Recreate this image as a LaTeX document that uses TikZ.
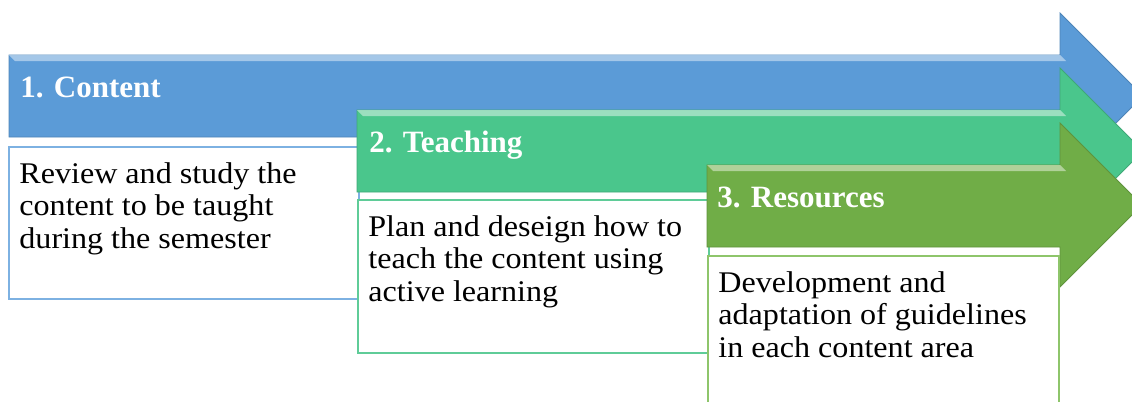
\documentclass[tikz,border=0pt]{standalone}
\usepackage{fontspec}
\setmainfont{Liberation Serif}
\newfontfamily\stepfont[FakeStretch=1.07]{Liberation Serif}
\usepackage{tikz}
\usetikzlibrary{calc}

\definecolor{cblue}{HTML}{5B9BD7}
\definecolor{cteal}{HTML}{4AC68C}
\definecolor{clime}{HTML}{70AD47}
\definecolor{cbluebd}{HTML}{7DB1E2}
\definecolor{ctealbd}{HTML}{5FCC98}
\definecolor{climebd}{HTML}{8EC56B}

\begin{document}
\begin{tikzpicture}[x=0.5pt,y=-0.5pt]
  \tikzset{
    arrowbody/.style={draw=#1!85!black, line width=0.4pt, fill=#1},
    bevel/.style={fill=#1!40!white, opacity=0.75},
    txtbox/.style={draw=#1, line width=1pt, fill=white, rectangle, anchor=north west, inner sep=0pt},
    title/.style={anchor=base west, inner sep=0pt, text=white, font=\fontsize{15.5}{19}\bfseries},
    body/.style={anchor=north west, inner sep=0pt, align=left, font=\stepfont\fontsize{15}{16.25}\selectfont},
  }
  \clip (0,0) rectangle (1132,402);

  % step 1
  \path [arrowbody=cblue] (9,55) -- (1060,55) -- (1060,13) -- (1143,96) -- (1060,179) -- (1060,137) -- (9,137) -- cycle;
  \path [bevel=cblue] (9,55) -- (1060,55) -- (1066,61) -- (15,61) -- cycle;
  \node [title] (t1) at (20,97) {1. Content};
  \node [txtbox=cbluebd, minimum width=175pt, minimum height=76pt] (b1) at (8,146) {};
  \node [body, xshift=5.5pt, yshift=-8pt] (d1) at (b1.north west) {Review and study the\\content to be taught\\during the semester};

  % step 2
  \path [arrowbody=cteal] (357,110) -- (1060,110) -- (1060,68) -- (1143,151) -- (1060,234) -- (1060,192) -- (357,192) -- cycle;
  \path [bevel=cteal] (357,110) -- (1060,110) -- (1066,116) -- (363,116) -- cycle;
  \node [title] (t2) at (369,152) {2. Teaching};
  \node [txtbox=ctealbd, minimum width=175.5pt, minimum height=76.5pt] (b2) at (357,199) {};
  \node [body, xshift=5.5pt, yshift=-8pt] (d2) at (b2.north west) {Plan and deseign how to\\teach the content using\\active learning};

  % step 3
  \path [arrowbody=clime] (707,165) -- (1060,165) -- (1060,123) -- (1142,205) -- (1060,287) -- (1060,247) -- (707,247) -- cycle;
  \path [bevel=clime] (707,165) -- (1060,165) -- (1066,171) -- (713,171) -- cycle;
  \node [title] (t3) at (717,207) {3. Resources};
  \node [txtbox=climebd, minimum width=175.5pt, minimum height=90pt] (b3) at (707,255) {};
  \node [body, xshift=5.5pt, yshift=-8pt] (d3) at (b3.north west) {Development and\\adaptation of guidelines\\in each content area};
\end{tikzpicture}
\end{document}
